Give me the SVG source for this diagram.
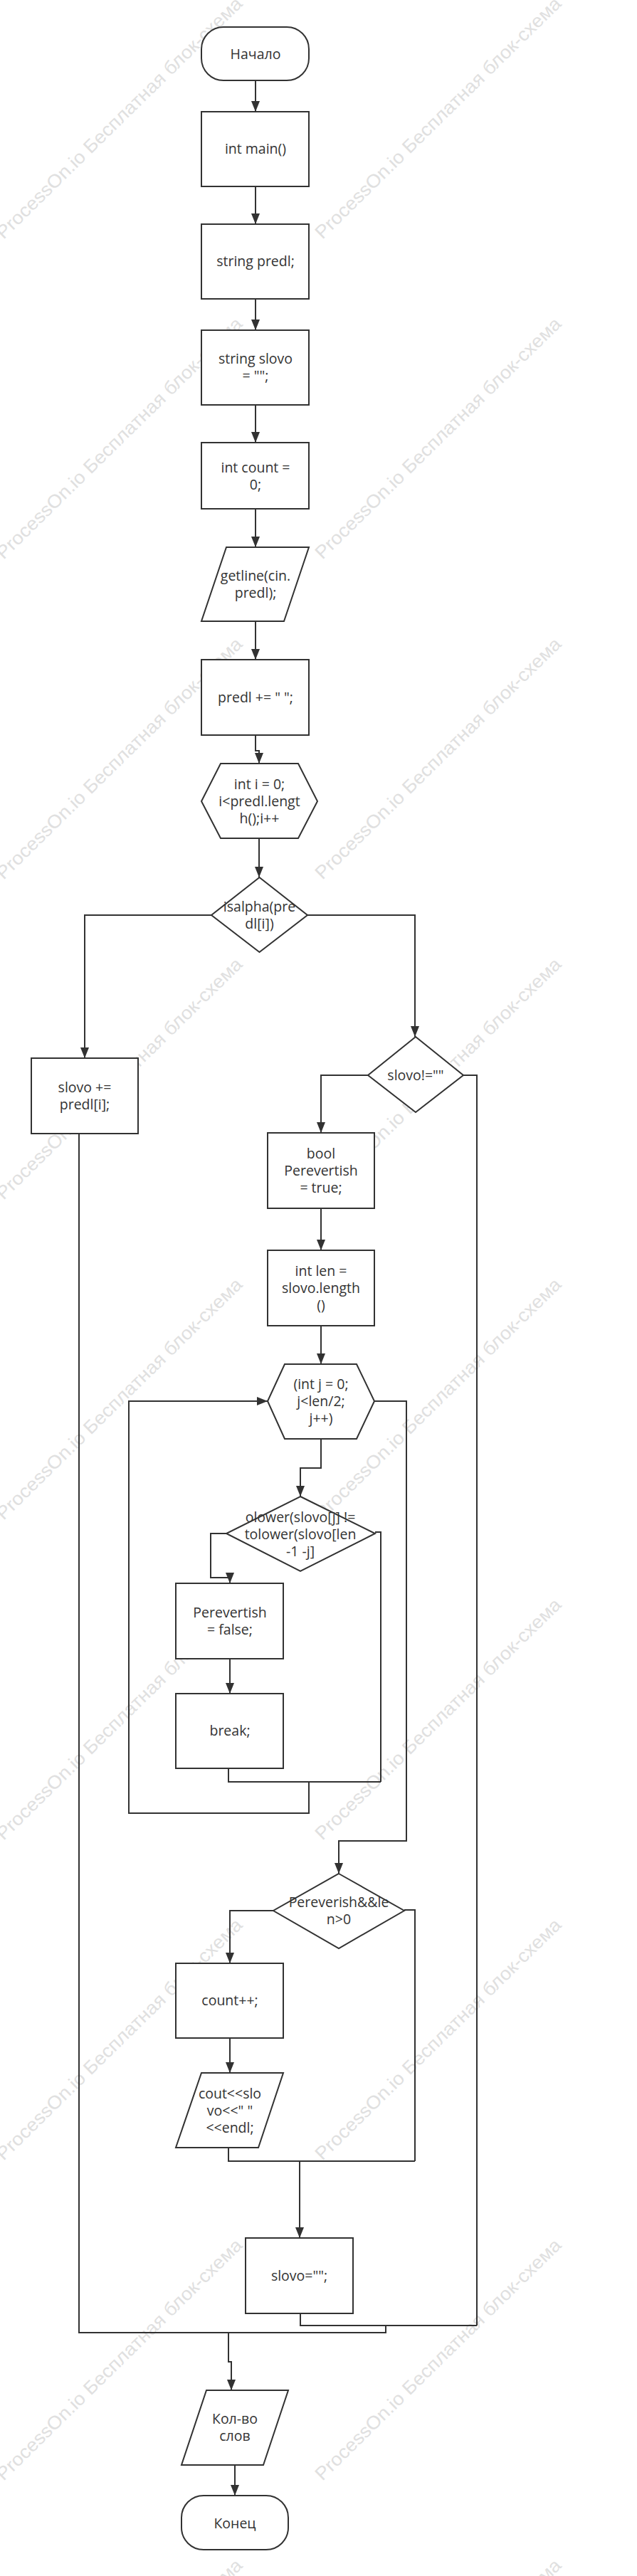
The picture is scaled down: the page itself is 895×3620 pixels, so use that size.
<svg xmlns="http://www.w3.org/2000/svg" xmlns:xlink="http://www.w3.org/1999/xlink" width="895" height="3620" viewBox="0 0 895 3620">
<style>
.n{fill:#fff;stroke:#323232;stroke-width:2}
.t{font-family:"Open Sans","Noto Sans",sans-serif;font-size:19.5px;fill:#333;text-anchor:middle}
.c{fill:none;stroke:#323232;stroke-width:2}
.wm{font-family:"Liberation Sans",Arial,sans-serif;font-size:26px;fill:#e0e0e0}
</style>
<defs>
<marker id="ar" markerUnits="userSpaceOnUse" markerWidth="16" markerHeight="13" refX="15" refY="6" orient="auto">
<path d="M0,0 L15,6 L0,12 z" fill="#323232"/>
</marker>
<text id="wm" class="wm" transform="rotate(-44.4)" textLength="472" lengthAdjust="spacingAndGlyphs">ProcessOn.io Бесплатная блок-схема</text>
</defs>
<rect width="895" height="3620" fill="#fff"/>
<g id="watermark">
<use xlink:href="#wm" transform="translate(5,337)"/><use xlink:href="#wm" transform="translate(453,337)"/>
<use xlink:href="#wm" transform="translate(5,787)"/><use xlink:href="#wm" transform="translate(453,787)"/>
<use xlink:href="#wm" transform="translate(5,1237)"/><use xlink:href="#wm" transform="translate(453,1237)"/>
<use xlink:href="#wm" transform="translate(5,1687)"/><use xlink:href="#wm" transform="translate(453,1687)"/>
<use xlink:href="#wm" transform="translate(5,2137)"/><use xlink:href="#wm" transform="translate(453,2137)"/>
<use xlink:href="#wm" transform="translate(5,2587)"/><use xlink:href="#wm" transform="translate(453,2587)"/>
<use xlink:href="#wm" transform="translate(5,3037)"/><use xlink:href="#wm" transform="translate(453,3037)"/>
<use xlink:href="#wm" transform="translate(5,3487)"/><use xlink:href="#wm" transform="translate(453,3487)"/>
<use xlink:href="#wm" transform="translate(5,3937)"/><use xlink:href="#wm" transform="translate(453,3937)"/>
</g>
<g id="connectors">
<path class="c" d="M359,113 V157" marker-end="url(#ar)"/>
<path class="c" d="M359,262 V315" marker-end="url(#ar)"/>
<path class="c" d="M359,420 V464" marker-end="url(#ar)"/>
<path class="c" d="M359,569 V622" marker-end="url(#ar)"/>
<path class="c" d="M359,715 V769" marker-end="url(#ar)"/>
<path class="c" d="M359,873 V927" marker-end="url(#ar)"/>
<path class="c" d="M359,1033 V1055 H364 V1073" marker-end="url(#ar)"/>
<path class="c" d="M364,1178 V1233" marker-end="url(#ar)"/>
<path class="c" d="M297,1286 H119 V1487" marker-end="url(#ar)"/>
<path class="c" d="M432,1286 H583 V1457" marker-end="url(#ar)"/>
<path class="c" d="M517,1511 H451 V1592" marker-end="url(#ar)"/>
<path class="c" d="M651,1511 H670 V3268"/>
<path class="c" d="M451,1698 V1757" marker-end="url(#ar)"/>
<path class="c" d="M451,1863 V1917" marker-end="url(#ar)"/>
<path class="c" d="M451,2022 V2063 H422 V2103" marker-end="url(#ar)"/>
<path class="c" d="M318,2155 H296 V2217 H323 V2225" marker-end="url(#ar)"/>
<path class="c" d="M323,2331 V2380" marker-end="url(#ar)"/>
<path class="c" d="M321,2485 V2504 H535"/>
<path class="c" d="M527,2153 H535 V2504"/>
<path class="c" d="M434,2504 V2548 H181 V1969 H376" marker-end="url(#ar)"/>
<path class="c" d="M526,1969 H571 V2587 H476 V2633" marker-end="url(#ar)"/>
<path class="c" d="M384,2685 H323 V2759" marker-end="url(#ar)"/>
<path class="c" d="M323,2864 V2913" marker-end="url(#ar)"/>
<path class="c" d="M321,3018 V3037 H583"/>
<path class="c" d="M568,2684 H583 V3037"/>
<path class="c" d="M421,3037 V3145" marker-end="url(#ar)"/>
<path class="c" d="M422,3251 V3268 H670"/>
<path class="c" d="M111,1593 V3278 H542 V3268"/>
<path class="c" d="M321,3278 V3319 H325 V3359" marker-end="url(#ar)"/>
<path class="c" d="M330,3464 V3507" marker-end="url(#ar)"/>
</g>
<g id="start"><rect class="n" x="283" y="38" width="151" height="75" rx="31" ry="31"/><text class="t" x="359" y="83">Начало</text></g>
<g id="main"><rect class="n" x="283" y="157" width="151" height="105"/><text class="t" x="359" y="216">int main()</text></g>
<g id="predl"><rect class="n" x="283" y="315" width="151" height="105"/><text class="t" x="359" y="374">string predl;</text></g>
<g id="slovo"><rect class="n" x="283" y="464" width="151" height="105"/><text class="t" x="359" y="511">string slovo</text><text class="t" x="359" y="535">= "";</text></g>
<g id="count"><rect class="n" x="283" y="622" width="151" height="93"/><text class="t" x="359" y="664">int count =</text><text class="t" x="359" y="688">0;</text></g>
<g id="getline"><polygon class="n" points="318,769 434,769 399,873 283,873"/><text class="t" x="359" y="816">getline(cin.</text><text class="t" x="359" y="840">predl);</text></g>
<g id="addspace"><rect class="n" x="283" y="927" width="151" height="106"/><text class="t" x="359" y="987">predl += " ";</text></g>
<g id="fori"><polygon class="n" points="310,1073 419,1073 446,1126 419,1178 310,1178 283,1126"/><text class="t" x="364.5" y="1109">int i = 0;</text><text class="t" x="364.5" y="1133">i&lt;predl.lengt</text><text class="t" x="364.5" y="1157">h();i++</text></g>
<g id="isalpha"><polygon class="n" points="364.5,1233 432,1286 364.5,1338 297,1286"/><text class="t" x="364.5" y="1281">isalpha(pre</text><text class="t" x="364.5" y="1305">dl[i])</text></g>
<g id="append"><rect class="n" x="44" y="1487" width="150" height="106"/><text class="t" x="119" y="1535">slovo +=</text><text class="t" x="119" y="1559">predl[i];</text></g>
<g id="notempty"><polygon class="n" points="584,1457 651,1511 584,1563 517,1511"/><text class="t" x="584" y="1518">slovo!=""</text></g>
<g id="bool"><rect class="n" x="376" y="1592" width="150" height="106"/><text class="t" x="451" y="1628">bool</text><text class="t" x="451" y="1652">Perevertish</text><text class="t" x="451" y="1676">= true;</text></g>
<g id="len"><rect class="n" x="376" y="1757" width="150" height="106"/><text class="t" x="451" y="1793">int len =</text><text class="t" x="451" y="1817">slovo.length</text><text class="t" x="451" y="1841">()</text></g>
<g id="forj"><polygon class="n" points="400,1917 501,1917 526,1969 501,2022 400,2022 376,1969"/><text class="t" x="451" y="1952">(int j = 0;</text><text class="t" x="451" y="1976">j&lt;len/2;</text><text class="t" x="451" y="2000">j++)</text></g>
<g id="tolower"><polygon class="n" points="422,2103 527,2155 422,2208 318,2155"/><text class="t" x="422" y="2139">olower(slovo[j] !=</text><text class="t" x="422" y="2163">tolower(slovo[len</text><text class="t" x="422" y="2187">-1 -j]</text></g>
<g id="false"><rect class="n" x="247" y="2225" width="151" height="106"/><text class="t" x="323" y="2273">Perevertish</text><text class="t" x="323" y="2297">= false;</text></g>
<g id="break"><rect class="n" x="247" y="2380" width="151" height="105"/><text class="t" x="323" y="2439">break;</text></g>
<g id="check"><polygon class="n" points="476,2633 568,2685 476,2738 384,2685"/><text class="t" x="476" y="2680">Pereverish&amp;&amp;le</text><text class="t" x="476" y="2704">n&gt;0</text></g>
<g id="inc"><rect class="n" x="247" y="2759" width="151" height="105"/><text class="t" x="323" y="2818">count++;</text></g>
<g id="cout"><polygon class="n" points="283,2913 398,2913 363,3018 247,3018"/><text class="t" x="323" y="2949">cout&lt;&lt;slo</text><text class="t" x="323" y="2973">vo&lt;&lt;" "</text><text class="t" x="323" y="2997">&lt;&lt;endl;</text></g>
<g id="reset"><rect class="n" x="345" y="3145" width="151" height="106"/><text class="t" x="420.5" y="3205">slovo="";</text></g>
<g id="output"><polygon class="n" points="290,3359 405,3359 370,3464 255,3464"/><text class="t" x="330" y="3406">Кол-во</text><text class="t" x="330" y="3430">слов</text></g>
<g id="end"><rect class="n" x="255" y="3507" width="150" height="76" rx="31" ry="31"/><text class="t" x="330" y="3553">Конец</text></g>
</svg>
